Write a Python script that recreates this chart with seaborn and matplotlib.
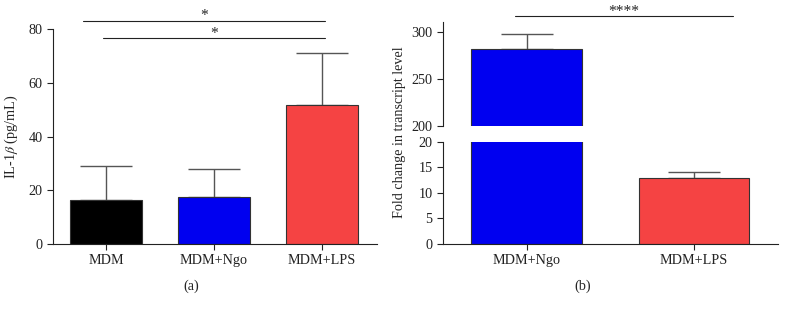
import seaborn as sns
import numpy as np
import pandas as pd
import matplotlib.pyplot as plt

# panel (a) data
groups_a = ['MDM', 'MDM+Ngo', 'MDM+LPS']
il1b_mean = [16.3, 17.6, 51.8]
il1b_err = [12.7, 10.4, 19.2]
colors_a = ['#000000', '#0000F0', '#F54343']

# panel (b) data
groups_b = ['MDM+Ngo', 'MDM+LPS']
fold_mean = [282.0, 13.0]
fold_err = [15.0, 1.1]
colors_b = ['#0000F0', '#F54343']

sns.set_style('ticks')
plt.rcParams['font.family'] = ['Liberation Serif', 'DejaVu Serif']
plt.rcParams['mathtext.fontset'] = 'stix'

fig = plt.figure(figsize=(7.88, 3.12), dpi=100)
ax_a = fig.add_axes([0.0673, 0.218, 0.411, 0.689])
ax_bt = fig.add_axes([0.562, 0.596, 0.425, 0.333])
ax_bb = fig.add_axes([0.562, 0.218, 0.425, 0.327])

fs = 10.2
tick_kw = dict(direction='out', length=4, width=0.8, colors='#222222', labelsize=fs)


def draw_bars(ax, groups, means, errs, colors, width):
    df = pd.DataFrame({'group': groups, 'value': means})
    sns.barplot(data=df, x='group', y='value', hue='group', palette=colors,
                saturation=1, width=width, edgecolor='#333333', linewidth=0.8,
                legend=False, ax=ax, zorder=2)
    ax.errorbar(np.arange(len(groups)), means, yerr=[np.zeros(len(errs)), errs],
                fmt='none', ecolor='#555555', elinewidth=1.0, capsize=width * 28,
                capthick=1.0, zorder=1)


# ---- panel (a)
draw_bars(ax_a, groups_a, il1b_mean, il1b_err, colors_a, 0.67)
ax_a.set_xlim(-0.49, 2.51)
ax_a.set_ylim(0, 80)
ax_a.set_yticks([0, 20, 40, 60, 80])
ax_a.set_xlabel('')
ax_a.set_ylabel(r'IL-1$\beta$ (pg/mL)', fontsize=fs, labelpad=6)
ax_a.tick_params(**tick_kw)
sns.despine(ax=ax_a)
for s in ['left', 'bottom']:
    ax_a.spines[s].set_linewidth(0.8)
    ax_a.spines[s].set_color('#222222')

ax_a.plot([-0.21, 2.03], [83, 83], color='#222222', lw=0.8, clip_on=False)
ax_a.text(0.91, 83.2, '*', ha='center', va='baseline', fontsize=fs + 1)
ax_a.plot([-0.03, 2.03], [76.6, 76.6], color='#222222', lw=0.8, clip_on=False)
ax_a.text(1.0, 76.8, '*', ha='center', va='baseline', fontsize=fs + 1)
fig.text(0.2424, 0.083, '(a)', ha='center', va='center', fontsize=fs)

# ---- panel (b), broken axis
for ax in (ax_bt, ax_bb):
    draw_bars(ax, groups_b, fold_mean, fold_err, colors_b, 0.66)
    ax.set_xlim(-0.5, 1.5)
    ax.set_xlabel('')
    ax.set_ylabel('')
    ax.tick_params(**tick_kw)
    for s in ['left', 'bottom']:
        ax.spines[s].set_linewidth(0.8)
        ax.spines[s].set_color('#222222')

ax_bt.set_ylim(200, 310)
ax_bt.set_yticks([200, 250, 300])
ax_bt.set_xticks([])
sns.despine(ax=ax_bt, bottom=True)

ax_bb.set_ylim(0, 20)
ax_bb.set_yticks([0, 5, 10, 15, 20])
sns.despine(ax=ax_bb)

fig.text(0.507, 0.575, 'Fold change in transcript level', rotation=90,
         ha='center', va='center', fontsize=fs)

ax_bt.plot([-0.07, 1.23], [316, 316], color='#222222', lw=0.8, clip_on=False)
ax_bt.text(0.58, 316.3, '****', ha='center', va='baseline', fontsize=fs + 1)
fig.text(0.74, 0.083, '(b)', ha='center', va='center', fontsize=fs)

fig.savefig('out.png', dpi=100)
